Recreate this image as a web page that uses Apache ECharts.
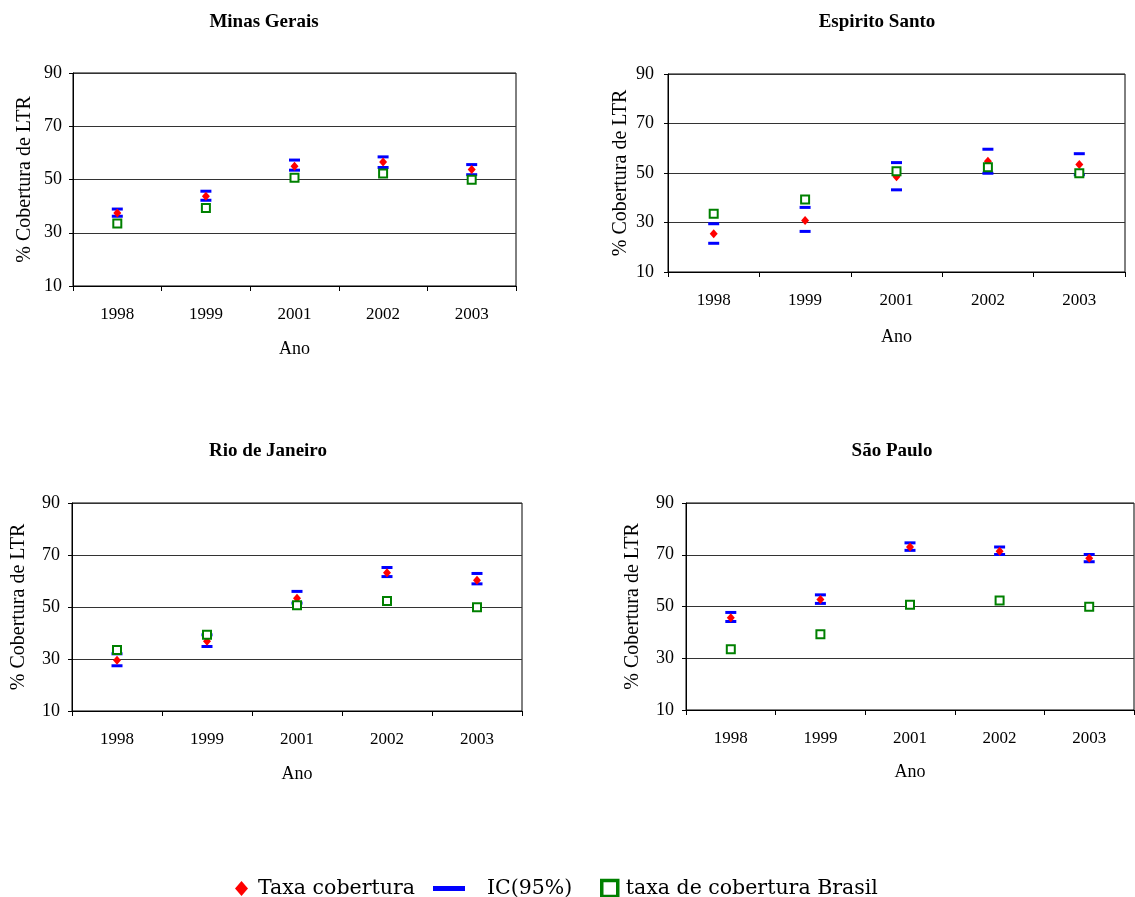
<!DOCTYPE html>
<html><head><meta charset="utf-8">
<script src="https://cdn.jsdelivr.net/npm/echarts@6/dist/echarts.min.js"></script>
<style>html,body{margin:0;padding:0;background:#fff}#c{width:1135px;height:897px}</style>
</head><body><div id="c"></div>
<script>
const categories = ['1998', '1999', '2001', '2002', '2003'];
const yTicks = [10, 30, 50, 70, 90];
const brasil = [33.5, 39.3, 50.7, 52.3, 49.9];

const mgTaxa = [37.4, 43.7, 55.0, 56.6, 53.8];
const mgLow  = [36.2, 42.2, 53.5, 54.5, 51.8];
const mgHigh = [38.9, 45.6, 57.3, 58.5, 55.6];

const esTaxa = [25.5, 30.8, 48.5, 54.7, 53.4];
const esLow  = [21.6, 26.4, 43.2, 49.9, 49.3];
const esHigh = [29.5, 36.1, 54.2, 59.6, 57.8];

const rjTaxa = [29.5, 36.8, 53.4, 63.2, 60.3];
const rjLow  = [27.4, 34.8, 51.5, 61.7, 58.9];
const rjHigh = [32.0, 39.3, 56.0, 65.2, 62.9];

const spTaxa = [45.7, 52.7, 73.0, 71.4, 68.6];
const spLow  = [44.2, 51.2, 71.7, 70.1, 67.3];
const spHigh = [47.7, 54.5, 74.6, 73.0, 70.1];

const panels = [
  {title: 'Minas Gerais', taxa: mgTaxa, low: mgLow, high: mgHigh,
   grid: {left: 73, top: 73, width: 443, height: 213}, tx: 259, ty: 8, xGap: 54, yGap: 38, lm: 11},
  {title: 'Espirito Santo', taxa: esTaxa, low: esLow, high: esHigh,
   grid: {left: 668, top: 74, width: 457, height: 198}, tx: 872, ty: 8, xGap: 56, yGap: 37, lm: 14},
  {title: 'Rio de Janeiro', taxa: rjTaxa, low: rjLow, high: rjHigh,
   grid: {left: 72, top: 503, width: 450, height: 208}, tx: 263, ty: 437, xGap: 54, yGap: 43, lm: 12},
  {title: 'São Paulo', taxa: spTaxa, low: spLow, high: spHigh,
   grid: {left: 686, top: 503, width: 448, height: 207}, tx: 887, ty: 437, xGap: 53, yGap: 43, lm: 12}
];

const FONT = 'Liberation Serif';
const LFONT = {fontFamily: 'DejaVu Serif', fontSize: 20.5, color: '#000'};
const option = {
  animation: false,
  backgroundColor: '#fff',
  title: [], grid: [], xAxis: [], yAxis: [], series: [],
  legend: [
    {left: 230, top: 873, itemWidth: 13, itemHeight: 15,
     textStyle: Object.assign({padding: [0, 0, 0, 5]}, LFONT),
     data: [{name: 'Taxa cobertura', icon: 'diamond'}]},
    {left: 428, top: 873, itemWidth: 32, itemHeight: 5,
     textStyle: Object.assign({padding: [0, 0, 0, 17]}, LFONT),
     data: [{name: 'IC(95%)', icon: 'rect'}]},
    {left: 595, top: 873, itemWidth: 16, itemHeight: 16,
     itemStyle: {borderWidth: 3.5},
     textStyle: Object.assign({padding: [0, 0, 0, 3]}, LFONT),
     data: [{name: 'taxa de cobertura Brasil', icon: 'rect'}]}
  ]
};

panels.forEach((p, i) => {
  option.title.push({text: p.title, left: p.tx, top: p.ty, textAlign: 'center',
    textStyle: {fontFamily: FONT, fontWeight: 'bold', fontSize: 19, color: '#000'}});
  option.grid.push(Object.assign({show: true, borderColor: '#000', borderWidth: 1, backgroundColor: '#fff'}, p.grid));
  option.xAxis.push({type: 'category', gridIndex: i, data: categories, boundaryGap: true,
    name: 'Ano', nameLocation: 'middle', nameGap: p.xGap,
    nameTextStyle: {fontFamily: FONT, fontSize: 18, color: '#000'},
    axisLine: {lineStyle: {color: '#000', width: 1}},
    axisTick: {show: true, length: 5, lineStyle: {color: '#000'}},
    axisLabel: {fontFamily: FONT, fontSize: 17, color: '#000', margin: 20},
    splitLine: {show: false}});
  option.yAxis.push({type: 'value', gridIndex: i, min: 10, max: 90, interval: 20,
    name: '% Cobertura de LTR', nameLocation: 'middle', nameGap: p.yGap, nameRotate: 90,
    nameTextStyle: {fontFamily: FONT, fontSize: 20, color: '#000'},
    axisLine: {show: true, lineStyle: {color: '#000', width: 1}},
    axisTick: {show: true, length: 4, lineStyle: {color: '#000'}},
    axisLabel: {fontFamily: FONT, fontSize: 18, color: '#000', margin: p.lm},
    splitLine: {show: true, lineStyle: {color: '#333', width: 1}}});
  const base = {type: 'scatter', xAxisIndex: i, yAxisIndex: i};
  option.series.push(Object.assign({}, base, {name: 'IC(95%)', symbol: 'rect', symbolSize: [11, 3],
    itemStyle: {color: '#0000ff', opacity: 1}, data: p.high, z: 2}));
  option.series.push(Object.assign({}, base, {name: 'IC(95%)', symbol: 'rect', symbolSize: [11, 3],
    itemStyle: {color: '#0000ff', opacity: 1}, data: p.low, z: 2}));
  option.series.push(Object.assign({}, base, {name: 'Taxa cobertura', symbol: 'diamond', symbolSize: [8, 9],
    itemStyle: {color: '#ff0000', opacity: 1}, data: p.taxa, z: 3}));
  option.series.push(Object.assign({}, base, {name: 'taxa de cobertura Brasil', symbol: 'rect', symbolSize: 8,
    itemStyle: {color: '#ffffff', borderColor: '#008000', borderWidth: 2, opacity: 1}, data: brasil, z: 4}));
});

const chart = echarts.init(document.getElementById('c'), null, {renderer: 'canvas'});
chart.setOption(option);
</script>
</body></html>
